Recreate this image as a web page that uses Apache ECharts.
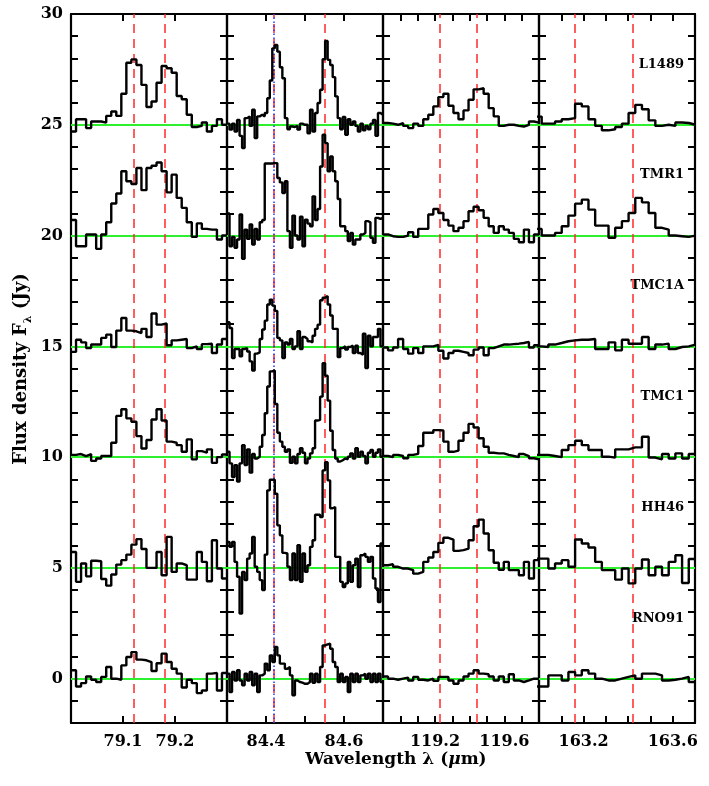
<!DOCTYPE html>
<html>
<head>
<meta charset="utf-8">
<script src="https://cdn.jsdelivr.net/npm/echarts@6/dist/echarts.min.js"></script>
<style>
  html, body { margin: 0; padding: 0; background: #fff; }
  #chart { width: 709px; height: 786px; }
</style>
</head>
<body>
<div id="chart"></div>
<script>
// sources, stacked with an offset of 5 Jy each
const sources = ['L1489', 'TMR1', 'TMC1A', 'TMC1', 'HH46', 'RNO91'];
const offsets = [25, 20, 15, 10, 5, 0];

// the four wavelength windows (micron)
const xRanges = [[79.0, 79.3], [84.3, 84.7], [118.9, 119.8], [163.0, 163.7]];
const xLabels = [[79.1, 79.2], [84.4, 84.6], [119.2, 119.6], [163.2, 163.6]];
const binStart = [79.0, 84.3, 118.9, 162.982];
const binWidth = [0.3 / 31, 0.4 / 62, 0.9 / 31, 0.03];
const ohLines = [[79.118, 79.181], [84.423, 84.552], [119.231, 119.44], [163.162, 163.416]];
const coLine = 84.416;

// flux above each source's baseline, per bin (Jy)
const l1489_79 = [-0.3,0.25,0.25,-0.15,0.15,0.15,0.1,0.4,0.6,0.4,1.4,2.8,2.95,2.7,1.8,0.8,1.05,1.9,2.65,2.55,2.35,1.3,1.15,0.45,-0.1,-0.05,0.1,-0.3,-0.05,0.25,0.0];
const tmr1_79  = [0.7,-0.48,-0.48,0.05,0.05,-0.6,0.05,0.6,1.45,1.9,2.9,2.45,2.33,3.05,2.05,3.05,3.15,3.3,2.9,1.95,2.75,1.7,1.25,0.6,-0.06,0.55,0.3,0.27,0.27,-0.18,0.0];
const tmc1a_79 = [-0.25,0.3,0.18,-0.08,0.08,0.08,0.38,0.53,-0.03,0.71,1.28,0.71,0.68,0.6,0.79,0.42,1.48,0.98,1.03,0.05,0.27,0.3,0.33,-0.08,0.0,-0.12,0.1,0.12,-0.3,0.08,0.33];
const tmc1_79  = [0.1,0.14,0.05,0.14,-0.17,-0.06,0.05,0.05,0.65,1.86,2.16,1.75,1.6,0.95,0.39,0.77,1.7,2.16,1.65,0.7,0.65,0.54,0.24,0.8,-0.1,0.27,0.2,0.35,-0.26,0.0,0.12];
const hh46_79  = [0.72,-0.63,0.2,-0.38,0.32,0.3,-0.5,-0.8,-0.3,0.15,0.35,0.6,1.05,1.3,0.85,0.0,0.0,0.72,-0.33,1.4,-0.18,0.2,0.12,-0.53,-0.53,0.72,0.27,-0.6,1.25,-0.03,-0.48];
const rno91_79 = [0.38,-0.35,-0.2,0.1,-0.05,-0.15,0.08,0.53,0.0,-0.05,0.6,0.98,1.2,0.86,0.83,0.75,0.35,0.7,1.13,0.75,0.45,0.23,-0.4,-0.05,-0.2,-0.65,-0.53,0.23,0.26,-0.53,0.26];

const l1489_84 = [0.05,-0.22,0.05,-0.3,0.22,-0.5,-1.05,0.3,0.38,-0.05, 0.68,-0.6,0.38,0.45,0.38,0.53,1.2,2.0,3.45,3.6, 3.3,2.6,2.1,0.3,-0.2,-0.08,-0.1,-0.05,-0.22,0.05, 0.0,0.0,-0.38,0.68,-0.3,0.53,0.98,1.58,2.96,3.78, 2.93,2.7,2.15,1.28,0.3,-0.2,0.35,-0.45,0.25,0.0, 0.15,-0.05,-0.3,0.05,-0.25,-0.05,-0.2,0.05,0.22,-0.5, 0.53,0.45];
const tmr1_84  = [1.0,-0.48,-0.06,-0.55,-0.18,0.95,-1.05,0.27,-0.15,0.5, -0.4,0.3,-0.18,0.6,0.7,3.25,3.25,3.25,3.27,3.27, 2.6,2.4,1.92,2.45,0.2,-0.55,0.9,0.0,-0.18,0.85, -0.48,0.72,0.54,0.42,1.77,0.7,1.2,3.12,4.55,4.17, 2.9,3.57,2.9,2.45,1.65,0.42,0.42,0.2,-0.25,0.12, -0.4,-0.18,-0.18,0.05,0.12,0.65,0.6,-0.1,-0.33,0.8, 0.75,0.8];
const tmc1a_84 = [1.09,0.83,-0.53,-0.12,-0.12,-0.45,-0.12,-0.08,-0.23,-0.68, -1.09,-0.33,-0.27,0.33,0.76,1.16,1.89,2.11,1.84,1.6, 0.38,0.27,-0.53,0.18,0.08,0.33,-0.12,0.0,0.68,-0.12, 0.42,0.33,0.23,0.18,0.48,0.79,0.98,2.08,2.19,2.27, 1.89,1.39,0.79,0.79,-0.48,-0.08,0.0,-0.15,-0.03,0.03, -0.3,0.03,-0.3,-0.38,0.57,-0.98,0.48,0.0,0.42,0.42, 0.79,0.0];
const tmc1_84  = [0.24,-0.28,-0.9,-0.36,-1.1,-0.28,0.54,-0.36,0.35,-0.7, 0.14,-0.06,0.02,0.47,1.0,1.98,3.19,3.87,3.91,2.4, 1.1,0.7,0.47,0.24,0.35,-0.26,0.02,-0.28,0.14,0.4, 0.2,-0.28,-0.06,0.17,0.4,1.65,1.68,2.73,4.24,3.67, 2.55,1.19,0.32,-0.06,-0.2,-0.14,-0.06,-0.1,0.02,0.17, -0.06,0.4,0.02,0.24,0.05,-0.28,0.2,0.32,0.02,0.2, 0.35,0.02];
const hh46_84  = [1.17,0.95,1.17,0.27,-0.4,-2.06,-0.18,-0.55,0.42,0.65, 1.4,0.05,-0.18,-0.55,-1.0,0.6,3.5,3.98,3.98,3.35, 1.92,1.47,0.68,0.65,0.05,-0.55,0.65,-0.55,1.02,-0.63, 0.65,-0.18,0.12,0.95,1.25,2.4,2.4,2.3,4.4,4.77, 3.95,2.69,2.75,0.5,0.5,-0.63,-0.86,-0.7,0.27,-0.63, 0.12,0.42,-0.86,0.57,0.65,0.5,0.27,0.5,-0.48,-0.93, -1.54,1.1];
const rno91_84 = [0.22,-0.6,0.3,-0.08,0.38,-0.08,-0.3,0.22,-0.08,0.3, -0.3,0.22,-0.6,0.15,0.22,0.68,0.38,1.05,0.75,1.43, 1.05,0.68,0.68,0.45,0.53,0.15,-0.75,-0.08,-0.15,-0.18, -0.23,-0.23,-0.15,0.22,-0.18,0.22,-0.15,0.53,1.5,1.55, 1.58,1.35,0.75,0.53,-0.15,0.22,-0.15,0.08,-0.6,0.22, -0.15,0.22,-0.15,0.15,0.22,0.0,0.22,-0.15,0.22,-0.15, 0.22,-0.15];

const l1489_119 = [0.08,0.05,0.0,0.08,-0.05,-0.15,0.05,-0.05,0.25,0.45,0.83,1.25,1.4,0.86,0.53,0.25,0.65,1.13,1.6,1.65,1.4,0.75,0.38,-0.05,0.0,0.0,-0.05,-0.08,0.0,0.15,0.1];
const tmr1_119  = [0.05,-0.03,-0.06,-0.06,0.0,0.15,-0.06,0.3,0.3,0.95,1.2,1.02,0.7,0.45,0.2,0.35,0.65,1.1,1.3,1.14,0.8,0.42,0.12,0.42,0.27,0.12,-0.15,-0.3,0.27,-0.3,0.05];
const tmc1a_119 = [-0.05,-0.18,-0.05,0.33,-0.12,-0.33,-0.08,-0.3,0.0,0.0,0.07,-0.2,-0.55,-0.3,-0.2,-0.25,-0.3,-0.4,-0.15,-0.05,-0.4,-0.08,0.0,0.08,0.08,0.1,0.12,0.15,0.2,-0.05,0.05];
const tmc1_119  = [0.05,0.0,0.1,0.05,-0.05,0.1,0.15,0.5,1.1,1.1,1.22,1.2,0.7,0.24,0.29,0.74,1.1,1.5,1.34,0.85,0.47,0.2,0.17,0.17,0.1,0.05,0.0,0.14,0.05,-0.05,-0.1];
const hh46_119  = [0.12,0.17,0.05,-0.03,-0.03,-0.1,-0.26,-0.18,0.27,0.47,0.72,1.13,1.36,1.28,0.77,0.8,0.87,1.25,1.88,2.18,1.55,0.8,0.23,-0.08,0.27,-0.1,-0.1,-0.33,0.27,-0.48,0.35];
const rno91_119 = [0.1,0.0,-0.05,0.0,0.05,-0.08,0.08,-0.05,-0.08,0.0,-0.1,0.08,0.08,-0.08,-0.23,-0.08,0.1,0.23,0.38,0.23,0.2,0.1,-0.08,0.1,-0.15,0.2,-0.08,-0.15,-0.08,0.0,0.0];

const l1489_163 = [0.37,0.05,0.05,0.15,0.25,0.3,0.95,0.83,0.25,-0.05,-0.25,-0.2,-0.1,0.05,0.53,0.9,0.7,0.2,-0.05,0.0,-0.05,0.1,0.08,0.0];
const tmr1_163  = [0.3,0.0,0.0,0.12,0.42,0.9,1.44,1.62,1.17,0.45,0.45,-0.1,0.35,0.65,1.02,1.7,1.5,1.02,0.35,0.27,0.0,-0.03,-0.06,0.0];
const tmc1a_163 = [0.0,-0.03,0.08,0.15,0.23,0.27,0.3,0.3,0.33,-0.12,-0.12,0.18,-0.18,0.3,0.12,0.12,0.42,-0.12,0.08,0.12,-0.12,-0.03,0.0,0.08];
const tmc1_163  = [0.1,0.1,0.05,0.0,0.32,0.54,0.74,0.54,0.32,0.32,0.02,-0.02,0.35,0.35,0.44,0.44,0.92,-0.02,-0.1,0.14,-0.06,0.17,-0.06,0.14];
const hh46_163  = [0.42,0.42,-0.03,0.2,0.35,0.05,1.28,1.1,0.92,0.27,-0.1,-0.1,-0.53,-0.03,-0.7,-0.03,0.38,-0.33,0.05,-0.33,0.27,0.57,-0.68,0.4];
const rno91_163 = [-0.35,-0.35,0.15,0.15,-0.08,0.3,0.15,0.38,0.23,0.0,-0.08,-0.08,0.0,0.08,0.15,0.0,0.23,0.23,0.15,-0.08,-0.05,0.0,0.08,-0.15];

const spectra = [
  [l1489_79, l1489_84, l1489_119, l1489_163],
  [tmr1_79, tmr1_84, tmr1_119, tmr1_163],
  [tmc1a_79, tmc1a_84, tmc1a_119, tmc1a_163],
  [tmc1_79, tmc1_84, tmc1_119, tmc1_163],
  [hh46_79, hh46_84, hh46_119, hh46_163],
  [rno91_79, rno91_84, rno91_119, rno91_163]
];

const FONT = 'DejaVu Serif';
const panelLeft = 71, panelW = 156, panelTop = 14, panelH = 709;

const grids = [], xAxes = [], yAxes = [], series = [];
const tickStyle = { inside: true, length: 7, lineStyle: { color: '#000', width: 2 } };
const axisLineStyle = { onZero: false, lineStyle: { color: '#000', width: 2.2 } };

for (let p = 0; p < 4; p++) {
  grids.push({ left: panelLeft + p * panelW, top: panelTop, width: panelW, height: panelH, outerBoundsMode: 'none' });
  ['bottom', 'top'].forEach(pos => {
    xAxes.push({
      type: 'value', gridIndex: p, position: pos,
      min: xRanges[p][0], max: xRanges[p][1], interval: 0.1,
      axisLine: axisLineStyle, axisTick: tickStyle, splitLine: { show: false },
      axisLabel: {
        show: pos === 'bottom', margin: 11, color: '#000',
        fontFamily: FONT, fontSize: 16, fontWeight: 'bold',
        formatter: v => xLabels[p].some(l => Math.abs(l - v) < 1e-6) ? v.toFixed(1) : ''
      }
    });
  });
  ['left', 'right'].forEach(pos => {
    yAxes.push({
      type: 'value', gridIndex: p, position: pos,
      min: -2, max: 30, interval: 1,
      axisLine: axisLineStyle, axisTick: tickStyle, splitLine: { show: false },
      axisLabel: {
        show: p === 0 && pos === 'left', margin: 8, color: '#000',
        fontFamily: FONT, fontSize: 16, fontWeight: 'bold',
        formatter: v => (v % 5 === 0 ? String(v) : '')
      }
    });
  });

  // green zero levels for each source
  series.push({
    type: 'line', xAxisIndex: 2 * p, yAxisIndex: 2 * p, data: [], z: 1,
    markLine: {
      silent: true, symbol: ['none', 'none'], label: { show: false }, animation: false,
      lineStyle: { color: '#2ef02e', width: 2, type: 'solid' },
      data: offsets.map(o => ({ yAxis: o }))
    }
  });

  // spectra as histograms
  sources.forEach((name, s) => {
    const vals = spectra[s][p];
    const data = vals.map((v, i) => [binStart[p] + i * binWidth[p], offsets[s] + v]);
    data.push([binStart[p] + vals.length * binWidth[p], offsets[s] + vals[vals.length - 1]]);
    series.push({
      name: name, type: 'line', step: 'end', xAxisIndex: 2 * p, yAxisIndex: 2 * p,
      data: data, symbol: 'none', z: 5,
      lineStyle: { color: '#000', width: 2.4 }
    });
  });

  // line positions
  series.push({
    type: 'line', xAxisIndex: 2 * p, yAxisIndex: 2 * p, data: [], z: 8,
    markLine: {
      silent: true, symbol: ['none', 'none'], label: { show: false }, animation: false,
      lineStyle: { color: '#ff2a2a', width: 1.5, type: [9, 6] },
      data: ohLines[p].map(v => ({ xAxis: v }))
    }
  });
  if (p === 1) {
    series.push({
      type: 'line', xAxisIndex: 2 * p, yAxisIndex: 2 * p, data: [], z: 8,
      markLine: {
        silent: true, symbol: ['none', 'none'], label: { show: false }, animation: false,
        lineStyle: { color: '#2233ff', width: 1.5, type: [1.5, 2.5] },
        data: [{ xAxis: coLine }]
      }
    });
  }
}

const chart = echarts.init(document.getElementById('chart'), null, { renderer: 'canvas' });
chart.setOption({
  animation: false,
  backgroundColor: '#fff',
  grid: grids,
  xAxis: xAxes,
  yAxis: yAxes,
  series: series
});

// titles and source names
const graphics = [
  {
    type: 'text', x: 21, y: 369, rotation: Math.PI / 2,
    style: {
      text: 'Flux density F{s|λ} (Jy)', align: 'center', verticalAlign: 'middle',
      fontFamily: FONT, fontSize: 18, fontWeight: 'bold', fill: '#000',
      rich: { s: { fontFamily: FONT, fontSize: 11, fontWeight: 'bold', verticalAlign: 'bottom', lineHeight: 26 } }
    }
  },
  {
    type: 'text', x: 396, y: 760,
    style: {
      text: 'Wavelength λ ({i|μ}m)', align: 'center', verticalAlign: 'middle',
      fontFamily: FONT, fontSize: 17, fontWeight: 'bold', fill: '#000',
      rich: { i: { fontFamily: FONT, fontSize: 17, fontWeight: 'bold', fontStyle: 'italic' } }
    }
  }
];
sources.forEach((name, s) => {
  const pt = chart.convertToPixel({ gridIndex: 3 }, [xRanges[3][1], offsets[s] + 2.73]);
  graphics.push({
    type: 'text', x: pt[0] - 11, y: pt[1],
    style: {
      text: name, align: 'right', verticalAlign: 'middle',
      fontFamily: FONT, fontSize: 13, fontWeight: 'bold', fill: '#000'
    }
  });
});
chart.setOption({ graphic: graphics });
</script>
</body>
</html>
